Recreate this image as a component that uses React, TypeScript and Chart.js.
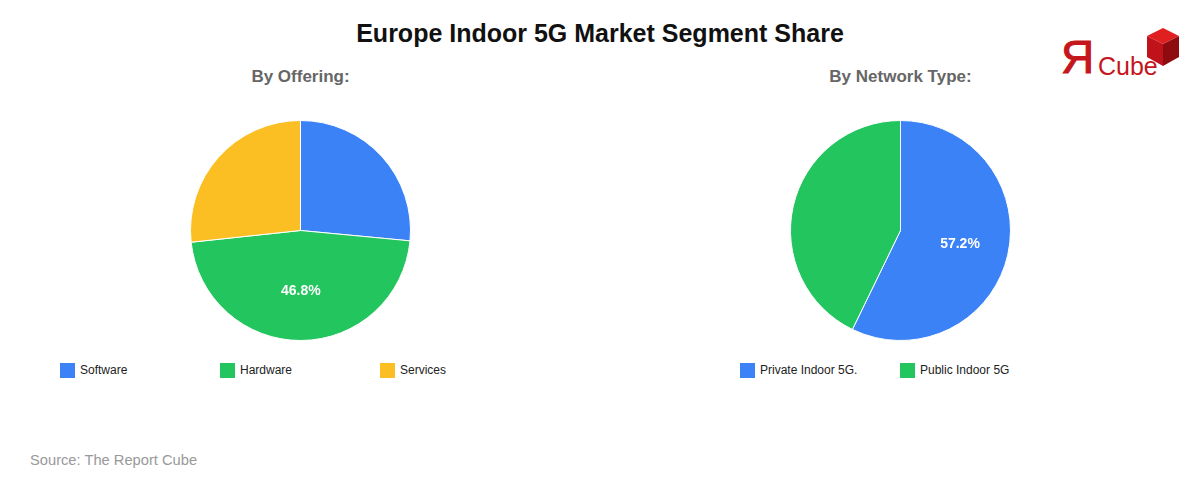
import React, { useEffect, useRef } from "react";
import { Chart, registerables } from "chart.js";

Chart.register(...registerables);

const TITLE = "Europe Indoor 5G Market Segment Share";
const SOURCE = "Source: The Report Cube";

const offeringTitle = "By Offering:";
const offeringLabels = ["Software", "Hardware", "Services"];
const offeringValues = [26.5, 46.8, 26.7];
const offeringColors = ["#3B82F6", "#22C55E", "#FBBF24"];

const networkTitle = "By Network Type:";
const networkLabels = ["Private Indoor 5G.", "Public Indoor 5G"];
const networkValues = [57.2, 42.8];
const networkColors = ["#3B82F6", "#22C55E"];

const FONT = "Arial, 'Liberation Sans', Helvetica, sans-serif";

const sliceLabelPlugin = {
  id: "sliceLabel",
  afterDatasetsDraw(chart: any) {
    const ctx = chart.ctx;
    const meta = chart.getDatasetMeta(0);
    const data = chart.data.datasets[0].data as number[];
    const total = data.reduce((a, b) => a + b, 0);
    const maxVal = Math.max(...data);
    meta.data.forEach((arc: any, i: number) => {
      if (data[i] !== maxVal) return;
      const pct = (data[i] / total) * 100;
      const { x, y, startAngle, endAngle, outerRadius } = arc.getProps(
        ["x", "y", "startAngle", "endAngle", "outerRadius"],
        true
      );
      const mid = (startAngle + endAngle) / 2;
      const r = outerRadius * 0.555;
      ctx.save();
      ctx.fillStyle = "#ffffff";
      ctx.font = `bold 14px ${FONT}`;
      ctx.textAlign = "center";
      ctx.textBaseline = "middle";
      ctx.fillText(pct.toFixed(1) + "%", x + Math.cos(mid) * r, y + Math.sin(mid) * r);
      ctx.restore();
    });
  },
};

function Pie({ labels, values, colors, left }: { labels: string[]; values: number[]; colors: string[]; left: number }) {
  const ref = useRef<HTMLCanvasElement>(null);
  useEffect(() => {
    if (!ref.current) return;
    const chart = new Chart(ref.current, {
      type: "pie",
      data: {
        labels,
        datasets: [
          {
            data: values,
            backgroundColor: colors,
            borderColor: "#ffffff",
            borderWidth: 1,
          },
        ],
      },
      options: {
        responsive: false,
        animation: false,
        layout: { padding: 0 },
        plugins: { legend: { display: false }, tooltip: { enabled: false }, title: { display: false } },
      },
      plugins: [sliceLabelPlugin],
    });
    return () => chart.destroy();
  }, []);
  return (
    <canvas
      ref={ref}
      width={221}
      height={221}
      style={{ position: "absolute", left, top: 120, width: 221, height: 221 }}
    />
  );
}

function Legend({ labels, colors, left }: { labels: string[]; colors: string[]; left: number }) {
  return (
    <>
      {labels.map((l, i) => (
        <div
          key={l}
          style={{
            position: "absolute",
            left: left + i * 160,
            top: 362,
            height: 16,
            display: "flex",
            alignItems: "center",
            fontFamily: FONT,
            fontSize: 12,
            color: "#222",
            whiteSpace: "nowrap",
          }}
        >
          <span style={{ display: "inline-block", width: 15, height: 15, background: colors[i], marginRight: 5 }} />
          {l}
        </div>
      ))}
    </>
  );
}

function Logo() {
  return (
    <div style={{ position: "absolute", left: 1060, top: 26, width: 125, height: 56 }}>
      <span
        style={{
          position: "absolute",
          left: 1,
          top: 8,
          fontFamily: FONT,
          fontSize: 46,
          lineHeight: "46px",
          color: "#C4161C",
          WebkitTextStroke: "1px #C4161C",
        }}
      >
        Я
      </span>
      <span
        style={{
          position: "absolute",
          left: 38,
          top: 28,
          fontFamily: FONT,
          fontSize: 25,
          lineHeight: "25px",
          color: "#C4161C",
        }}
      >
        Cube
      </span>
      <svg style={{ position: "absolute", left: 84, top: 0 }} width="38" height="44" viewBox="0 0 38 44">
        <polygon points="3,10 19,2 35,10 19,18" fill="#E02020" />
        <polygon points="3,10 19,18 19,40 3,31" fill="#C0121A" />
        <polygon points="19,18 35,10 35,31 19,40" fill="#8E0B10" />
      </svg>
    </div>
  );
}

export default function App() {
  return (
    <div
      style={{
        position: "fixed",
        left: 0,
        top: 0,
        width: 1200,
        height: 480,
        background: "#ffffff",
        overflow: "hidden",
      }}
    >
      <div
        style={{
          position: "absolute",
          left: 0,
          width: 1200,
          top: 17,
          textAlign: "center",
          fontFamily: FONT,
          fontWeight: "bold",
          fontSize: 25,
          lineHeight: "32px",
          color: "#111",
        }}
      >
        {TITLE}
      </div>
      <Logo />
      <div
        style={{
          position: "absolute",
          left: 200,
          width: 201,
          top: 67,
          textAlign: "center",
          fontFamily: FONT,
          fontWeight: "bold",
          fontSize: 17,
          lineHeight: "20px",
          color: "#666",
        }}
      >
        {offeringTitle}
      </div>
      <div
        style={{
          position: "absolute",
          left: 800,
          width: 201,
          top: 67,
          textAlign: "center",
          fontFamily: FONT,
          fontWeight: "bold",
          fontSize: 17,
          lineHeight: "20px",
          color: "#666",
        }}
      >
        {networkTitle}
      </div>
      <Pie labels={offeringLabels} values={offeringValues} colors={offeringColors} left={190} />
      <Pie labels={networkLabels} values={networkValues} colors={networkColors} left={790} />
      <Legend labels={offeringLabels} colors={offeringColors} left={60} />
      <Legend labels={networkLabels} colors={networkColors} left={740} />
      <div
        style={{
          position: "absolute",
          left: 30,
          top: 451,
          fontFamily: FONT,
          fontSize: 14.7,
          lineHeight: "18px",
          color: "#999",
        }}
      >
        {SOURCE}
      </div>
    </div>
  );
}
